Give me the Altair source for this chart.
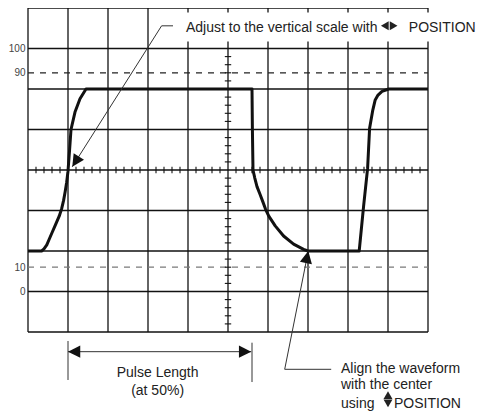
import math
import altair as alt
import pandas as pd

# ---------------- data (screen divisions: x 0..10, y 0..8) ----------------
grid_x = list(range(0, 11))
grid_y = list(range(0, 9))

# percent reference levels and where they sit on the division scale
pct_pos = [1.0, 1.6, 6.4, 7.0]          # 0 %, 10 %, 90 %, 100 %
dashed_pos = [6.4, 1.6]
dashed_color = ["#222222", "#7a7a7a"]

# waveform trace
wave_x = [0.0, 0.34, 0.4, 0.47, 0.53, 0.6, 0.675, 0.78, 0.84, 0.89, 0.93, 0.967, 1.0, 1.04, 1.075, 1.175, 1.3, 1.45,
          5.6, 5.61, 5.625, 5.67, 5.725, 5.8, 5.87, 5.94, 6.02, 6.18, 6.39, 6.64, 6.89, 7.0,
          8.28, 8.39, 8.49, 8.54, 8.62, 8.68, 8.75, 8.85, 9.02, 10.0]
wave_y = [2.0, 2.0, 2.05, 2.15, 2.29, 2.45, 2.62, 2.86, 3.04, 3.25, 3.47, 3.7, 3.97, 4.5, 5.0, 5.43, 5.76, 6.0,
          6.0, 5.0, 4.0, 3.8, 3.59, 3.4, 3.22, 3.03, 2.86, 2.62, 2.37, 2.17, 2.04, 2.0,
          2.0, 3.11, 4.04, 5.03, 5.48, 5.73, 5.85, 5.94, 6.0, 6.0]

# annotation connector segments (x, y, x2, y2)
seg_x = [3.625, 3.34, 1.0, 5.6, 1.0, 6.4175, 6.4175]
seg_y = [7.56, 7.56, -0.222, -0.264, -0.486, -0.921, -0.921]
seg_x2 = [3.34, 1.107, 1.0, 5.6, 5.58, 7.0075, 7.58]
seg_y2 = [7.56, 4.08, -1.185, -1.235, -0.486, 2.0, -0.921]

# arrow heads: tip and the point the arrow comes from
tip_x = [1.107, 7.0075, 1.0, 5.58]
tip_y = [4.08, 2.0, -0.486, -0.486]
from_x = [3.34, 6.4175, 5.58, 1.0]
from_y = [7.56, -0.921, -0.486, -0.486]

# small control symbols (◀▶ and ⬍)
sym_x = [8.92, 9.14, 9.0, 9.0]
sym_y = [7.56, 7.56, -1.556, -1.76]
sym_shape = ["triangle-left", "triangle-right", "triangle-up", "triangle-down"]

# white box behind the top label
box_x, box_x2, box_y, box_y2 = [3.725], [11.2], [7.17], [7.89]

# texts
text_left = ["Adjust to the vertical scale with", "POSITION", "Align the waveform",
             "with the center", "using", "POSITION"]
text_left_x = [3.95, 9.52, 7.825, 7.825, 7.825, 9.15]
text_left_y = [7.41, 7.41, -1.005, -1.415, -1.869, -1.869]
text_center = ["Pulse Length", "(at 50%)"]
text_center_x = [3.24, 3.24]
text_center_y = [-1.12, -1.55]

# ---------------- helpers ----------------
PX_X, PX_Y = 40.0, 40.5
W, H = 400, 324
FONT = "Liberation Sans"

xs = alt.Scale(domain=[0, 10], nice=False, zero=False)
ys = alt.Scale(domain=[0, 8], nice=False, zero=False)
yaxis = alt.Axis(values=pct_pos, labelExpr="round((datum.value - 1) * 100 / 6) + ''",
                 domain=False, ticks=False, grid=False, labelPadding=3, labelFontSize=10,
                 labelColor="#444444", labelFont=FONT, title=None)


def X(f):
    return alt.X(f, type="quantitative", scale=xs, axis=None)


def Y(f):
    return alt.Y(f, type="quantitative", scale=ys, axis=yaxis)


# grid
grid_rows = [dict(x=v, x2=v, y=0, y2=8) for v in grid_x] + [dict(x=0, x2=10, y=v, y2=v) for v in grid_y]
grid = alt.Chart(pd.DataFrame(grid_rows)).mark_rule(color="#111111", strokeWidth=1.3).encode(
    x=X("x"), x2="x2", y=Y("y"), y2="y2")

dashed = alt.Chart(pd.DataFrame(dict(y=dashed_pos, c=dashed_color, x=[0, 0], x2=[10, 10]))).mark_rule(
    strokeWidth=1.2, strokeDash=[6, 6]).encode(
    x=X("x"), x2="x2", y=Y("y"), y2="y", color=alt.Color("c:N", scale=None))

# minor ticks on the centre lines
tick_rows = []
for i in range(1, 50):
    if i % 5:
        v = i * 0.2
        tick_rows.append(dict(x=v, x2=v, y=4 - 0.08, y2=4 + 0.08))
for i in range(1, 40):
    if i % 5:
        v = i * 0.2
        tick_rows.append(dict(x=5 - 0.08, x2=5 + 0.08, y=v, y2=v))
ticks = alt.Chart(pd.DataFrame(tick_rows)).mark_rule(color="#111111", strokeWidth=1.1).encode(
    x=X("x"), x2="x2", y=Y("y"), y2="y2")

box = alt.Chart(pd.DataFrame(dict(x=box_x, x2=box_x2, y=box_y, y2=box_y2))).mark_rect(color="white").encode(
    x=X("x"), x2="x2", y=Y("y"), y2="y2")

wave = alt.Chart(pd.DataFrame(dict(x=wave_x, y=wave_y, i=list(range(len(wave_x)))))).mark_line(
    color="#111111", strokeWidth=3, strokeJoin="round").encode(x=X("x"), y=Y("y"), order="i:Q")

segs = alt.Chart(pd.DataFrame(dict(x=seg_x, y=seg_y, x2=seg_x2, y2=seg_y2))).mark_rule(
    color="#333333", strokeWidth=1).encode(x=X("x"), x2="x2", y=Y("y"), y2="y2")

angles = []
for tx, ty, fx, fy in zip(tip_x, tip_y, from_x, from_y):
    dx = (tx - fx) * PX_X
    dy = -(ty - fy) * PX_Y
    angles.append(math.degrees(math.atan2(dx, -dy)) % 360)
heads = alt.Chart(pd.DataFrame(dict(x=tip_x, y=tip_y, a=angles))).mark_point(
    shape="M0,0L-0.5,1L0.5,1Z", filled=True, size=600, opacity=1, color="#111111").encode(
    x=X("x"), y=Y("y"), angle=alt.Angle("a:Q", scale=None))

syms = alt.Chart(pd.DataFrame(dict(x=sym_x, y=sym_y, s=sym_shape))).mark_point(
    filled=True, size=80, opacity=1, color="#222222").encode(
    x=X("x"), y=Y("y"), shape=alt.Shape("s:N", scale=None))

tl = alt.Chart(pd.DataFrame(dict(t=text_left, x=text_left_x, y=text_left_y))).mark_text(
    align="left", baseline="alphabetic", font=FONT, fontSize=14, color="#222222").encode(
    x=X("x"), y=Y("y"), text="t:N")
tc = alt.Chart(pd.DataFrame(dict(t=text_center, x=text_center_x, y=text_center_y))).mark_text(
    align="center", baseline="alphabetic", font=FONT, fontSize=14, color="#222222").encode(
    x=X("x"), y=Y("y"), text="t:N")

chart = alt.layer(grid, dashed, ticks, box, wave, segs, heads, syms, tl, tc).properties(
    width=W, height=H,
    autosize=alt.AutoSizeParams(type="none"),
    padding={"left": 20, "top": 0, "right": 48, "bottom": 80},
    background="white",
).configure_view(stroke=None)

chart.save("out.html", embed_options={"renderer": "svg", "actions": False})
